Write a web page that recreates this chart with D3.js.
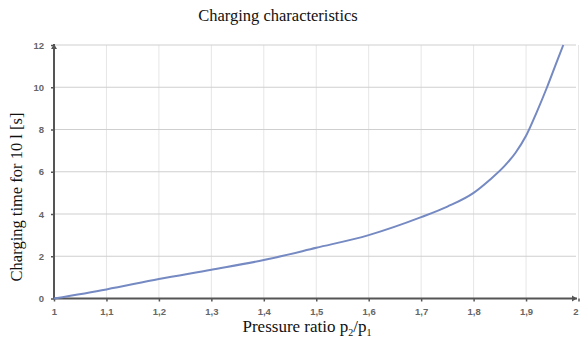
<!DOCTYPE html>
<html><head><meta charset="utf-8">
<script src="https://cdn.jsdelivr.net/npm/d3@7"></script>
<style>body{margin:0;background:#fff;}svg{display:block;}</style>
</head><body>
<svg id="c" width="580" height="341"></svg>
<script>
const ratio = [1.0, 1.1, 1.2, 1.3, 1.4, 1.5, 1.6, 1.7, 1.75, 1.8, 1.83, 1.86, 1.88, 1.9, 1.92, 1.94, 1.96, 1.971];
const chargeTime = [0, 0.43, 0.92, 1.36, 1.82, 2.4, 3.0, 3.85, 4.35, 5.0, 5.6, 6.3, 6.9, 7.7, 8.8, 10.0, 11.3, 12.0];
const xTicks = [1, 1.1, 1.2, 1.3, 1.4, 1.5, 1.6, 1.7, 1.8, 1.9, 2];
const xTickLabels = ["1", "1,1", "1,2", "1,3", "1,4", "1,5", "1,6", "1,7", "1,8", "1,9", "2"];
const yTicks = [0, 2, 4, 6, 8, 10, 12];
const titleText = "Charging characteristics";
const yTitle = "Charging time for 10 l [s]";

const svg = d3.select("#c");
const x = d3.scaleLinear().domain([1, 2]).range([54, 578.5]);
const y = d3.scaleLinear().domain([0, 12]).range([298.5, 45]);

// vertical gridlines
svg.append("g").selectAll("line").data(xTicks.slice(1)).join("line")
  .attr("x1", d => x(d)).attr("x2", d => x(d))
  .attr("y1", y(12)).attr("y2", y(0))
  .attr("stroke", "#e6e6e6").attr("stroke-width", 1);
// horizontal gridlines
svg.append("g").selectAll("line").data(yTicks.slice(1)).join("line")
  .attr("x1", x(1)).attr("x2", 576)
  .attr("y1", d => y(d)).attr("y2", d => y(d))
  .attr("stroke", "#cfcfcf").attr("stroke-width", 1.2);

// axes
const xAxis = d3.axisBottom(x).tickValues(xTicks).tickSize(3).tickFormat((d, i) => xTickLabels[i]);
const gx = svg.append("g").attr("transform", `translate(0,${y(0)})`).call(xAxis);
gx.select(".domain").remove();
gx.selectAll(".tick line").attr("stroke", "#555").attr("stroke-width", 1.5);
gx.selectAll(".tick text").attr("dy", 0).attr("y", 16)
  .attr("x", (d, i) => i === xTicks.length - 1 ? -3 : 0)
  .attr("font-family", "Liberation Sans, Arial, sans-serif").attr("font-size", 9.5).attr("font-weight", "bold").attr("fill", "#666");

const yAxis = d3.axisLeft(y).tickValues(yTicks).tickSize(3);
const gy = svg.append("g").attr("transform", `translate(${x(1)},0)`).call(yAxis);
gy.select(".domain").remove();
gy.selectAll(".tick line").attr("stroke", "#555").attr("stroke-width", 1.5);
gy.selectAll(".tick text").attr("x", -10)
  .attr("font-family", "Liberation Sans, Arial, sans-serif").attr("font-size", 9.5).attr("font-weight", "bold").attr("fill", "#666");

// axis lines with arrows
svg.append("line").attr("x1", x(1)).attr("x2", 577).attr("y1", y(0)).attr("y2", y(0))
  .attr("stroke", "#555").attr("stroke-width", 2);
svg.append("path").attr("d", `M577,${y(0)} l-5,-3 l0,6 z`).attr("fill", "#555");
svg.append("line").attr("x1", x(1)).attr("x2", x(1)).attr("y1", y(0)).attr("y2", 44)
  .attr("stroke", "#555").attr("stroke-width", 2);
svg.append("path").attr("d", `M${x(1)},44 l-3,5 l6,0 z`).attr("fill", "#555");

// curve
const line = d3.line().x((d, i) => x(ratio[i])).y(d => y(d)).curve(d3.curveMonotoneX);
svg.append("path").datum(chargeTime).attr("d", line)
  .attr("fill", "none").attr("stroke", "#7589c2").attr("stroke-width", 2);

// titles
svg.append("text").attr("x", 278).attr("y", 21).attr("text-anchor", "middle")
  .attr("font-family", "Liberation Serif, Times New Roman, serif").attr("font-size", 16.5).attr("fill", "#111")
  .text(titleText);
svg.append("text").attr("transform", "translate(22,197) rotate(-90)").attr("text-anchor", "middle")
  .attr("font-family", "Liberation Serif, Times New Roman, serif").attr("font-size", 16.5).attr("fill", "#111")
  .text(yTitle);
const xt = svg.append("text").attr("x", 307).attr("y", 332).attr("text-anchor", "middle")
  .attr("font-family", "Liberation Serif, Times New Roman, serif").attr("font-size", 17).attr("fill", "#111");
xt.append("tspan").text("Pressure ratio p");
xt.append("tspan").attr("font-size", 10).attr("dy", 4).text("2");
xt.append("tspan").attr("dy", -4).text("/p");
xt.append("tspan").attr("font-size", 10).attr("dy", 4).text("1");
</script>
</body></html>
